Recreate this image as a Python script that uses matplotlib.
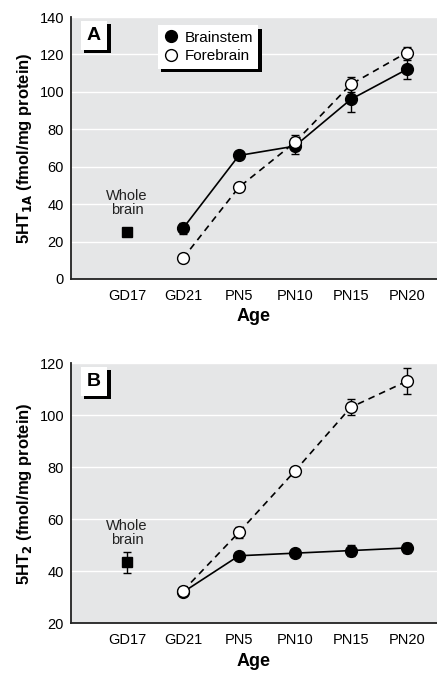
import matplotlib
matplotlib.use("Agg")
import matplotlib.pyplot as plt
import matplotlib.patches as patches
from matplotlib.lines import Line2D

# ---- data -----------------------------------------------------------------
ages = ["GD17", "GD21", "PN5", "PN10", "PN15", "PN20"]
series_ages = ["GD21", "PN5", "PN10", "PN15", "PN20"]

a_brainstem = [27, 66, 71, 96, 112]
a_brainstem_err = [3, 1, 4, 7, 5]
a_forebrain = [11, 49, 73, 104, 121]
a_forebrain_err = [1, 1, 4, 4, 3]
a_whole = 25
a_whole_err = 1

b_brainstem = [32, 46, 47, 48, 49]
b_brainstem_err = [1, 1, 1, 2, 2]
b_forebrain = [32.5, 55, 78.5, 103, 113]
b_forebrain_err = [1, 2, 1, 3, 5]
b_whole = 43.5
b_whole_err = 4

plt.rcParams["font.family"] = ["Liberation Sans", "DejaVu Sans"]

BG = "#e5e6e7"


def panel(ax, letter, ylabel, ylim, yticks, brain, brain_err, fore, fore_err,
          whole, whole_err, legend=False):
    pos = {a: i + 1 for i, a in enumerate(ages)}
    xs = [pos[a] for a in series_ages]
    ax.set_facecolor(BG)
    for y in yticks[1:]:
        ax.axhline(y, color="white", lw=1.0, zorder=0)
    ax.errorbar(xs, brain, yerr=brain_err, color="black", lw=1.2, marker="o",
                ms=8.5, mfc="black", mec="black", capsize=3.2, elinewidth=1,
                capthick=1, zorder=3)
    ax.errorbar(xs, fore, yerr=fore_err, color="black", lw=1.2, ls=(0, (4, 3)),
                marker="o", ms=8.5, mfc="white", mec="black", mew=1,
                capsize=3.2, elinewidth=1, capthick=1, zorder=4)
    ax.errorbar([pos["GD17"]], [whole], yerr=[whole_err], color="black",
                marker="s", ms=7, capsize=3.2, elinewidth=1, capthick=1,
                ls="none", zorder=3)
    ax.text(pos["GD17"], whole + (ylim[1] - ylim[0]) * 0.058, "Whole\nbrain",
            ha="center", va="bottom", fontsize=10.5, linespacing=1.0,
            color="#222222")
    ax.set_xlim(0, 6.54)
    ax.set_ylim(*ylim)
    ax.set_yticks(yticks)
    ax.set_xticks(range(1, len(ages) + 1))
    ax.set_xticklabels(ages)
    ax.tick_params(length=0, labelsize=10.5, pad=7)
    ax.tick_params(axis="y", pad=5)
    for s in ["top", "right"]:
        ax.spines[s].set_visible(False)
    for s in ["left", "bottom"]:
        ax.spines[s].set_linewidth(1.3)
        ax.spines[s].set_color("#222222")
    ax.set_xlabel("Age", fontsize=13, fontweight="bold", labelpad=4)
    ax.set_ylabel(ylabel, fontsize=12, fontweight="bold", labelpad=4)

    # letter box with black drop shadow
    ax.add_patch(patches.Rectangle((0.036, 0.862), 0.072, 0.11, transform=ax.transAxes,
                                   facecolor="black", edgecolor="none", zorder=5))
    ax.add_patch(patches.Rectangle((0.027, 0.873), 0.072, 0.11, transform=ax.transAxes,
                                   facecolor="white", edgecolor="none", zorder=6))
    ax.text(0.063, 0.928, letter, transform=ax.transAxes, ha="center", va="center",
            fontsize=14, fontweight="bold", zorder=7)

    if legend:
        handles = [
            Line2D([], [], ls="none", marker="o", ms=8.5, mfc="black", mec="black"),
            Line2D([], [], ls="none", marker="o", ms=8.5, mfc="white", mec="black", mew=1),
        ]
        leg = ax.legend(handles, ["Brainstem", "Forebrain"], loc="upper left",
                        bbox_to_anchor=(0.237, 0.968),
                        fontsize=11, frameon=True, fancybox=False,
                        borderpad=0.35, handletextpad=0.4, handlelength=1.0,
                        labelspacing=0.3, borderaxespad=0,
                        shadow={"ox": 2.5, "oy": -2.5, "color": "black", "alpha": 1})
        leg.get_frame().set_edgecolor("white")
        leg.get_frame().set_linewidth(0)
        leg.set_zorder(8)


fig = plt.figure(figsize=(4.37, 6.75), dpi=100)
ax1 = fig.add_axes([0.1625, 0.5867, 0.8375, 0.3881])
ax2 = fig.add_axes([0.1625, 0.0763, 0.8375, 0.3859])

panel(ax1, "A", r"5HT$_{\mathbf{1A}}$ (fmol/mg protein)", (0, 140),
      [0, 20, 40, 60, 80, 100, 120, 140], a_brainstem, a_brainstem_err,
      a_forebrain, a_forebrain_err, a_whole, a_whole_err, legend=True)
panel(ax2, "B", r"5HT$_{\mathbf{2}}$ (fmol/mg protein)", (20, 120),
      [20, 40, 60, 80, 100, 120], b_brainstem, b_brainstem_err,
      b_forebrain, b_forebrain_err, b_whole, b_whole_err)

fig.savefig("out.png", dpi=100)
